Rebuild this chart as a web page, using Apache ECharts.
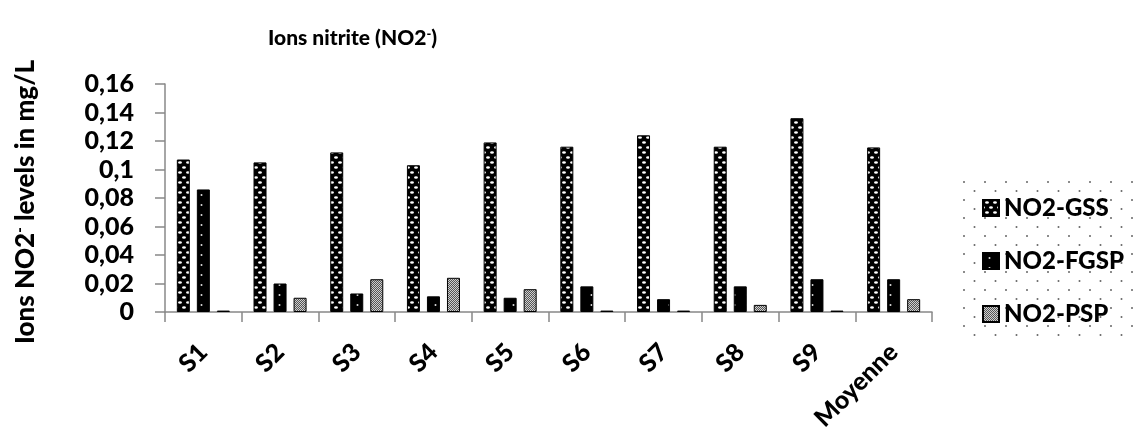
<!DOCTYPE html>
<html>
<head>
<meta charset="utf-8">
<script src="https://cdn.jsdelivr.net/npm/echarts@6/dist/echarts.min.js"></script>
<style>
html,body{margin:0;padding:0;background:#fff;}
#c{width:1138px;height:439px;}
</style>
</head>
<body>
<div id="c"></div>
<script>
const categories = ['S1','S2','S3','S4','S5','S6','S7','S8','S9','Moyenne'];
const gss  = [0.107, 0.105, 0.112, 0.103, 0.119, 0.116, 0.124, 0.116, 0.136, 0.1155];
const fgsp = [0.086, 0.020, 0.013, 0.011, 0.010, 0.018, 0.009, 0.018, 0.023, 0.023];
const psp  = [0.001, 0.010, 0.023, 0.024, 0.016, 0.001, 0.001, 0.005, 0.001, 0.009];
const seriesNames = ['NO2-GSS','NO2-FGSP','NO2-PSP'];
const yTicks = {min:0, max:0.16, interval:0.02};

function pat(w,h,draw){
  const c=document.createElement('canvas'); c.width=w; c.height=h;
  const g=c.getContext('2d'); draw(g,w,h); return {image:c, repeat:'repeat'};
}
const gssPat = pat(8,10,(g,w,h)=>{
  g.fillStyle='#000'; g.fillRect(0,0,w,h);
  g.fillStyle='#fff';
  g.beginPath(); g.ellipse(4,2.5,1.9,1.2,0,0,Math.PI*2); g.fill();
  g.beginPath(); g.ellipse(0,7.5,1.9,1.2,0,0,Math.PI*2); g.fill();
  g.beginPath(); g.ellipse(8,7.5,1.9,1.2,0,0,Math.PI*2); g.fill();
});
const fgspPat = pat(13,10,(g,w,h)=>{
  g.fillStyle='#000'; g.fillRect(0,0,w,h);
  g.fillStyle='#ddd';
  g.beginPath(); g.arc(6.5,5,1,0,Math.PI*2); g.fill();
});
const pspPat = pat(2,2,(g,w,h)=>{
  g.fillStyle='#555'; g.fillRect(0,0,2,2);
  g.fillStyle='#cfcfcf'; g.fillRect(0,0,1,1); g.fillRect(1,1,1,1);
});
const dotPat = pat(21,18,(g,w,h)=>{
  g.fillStyle='#fff'; g.fillRect(0,0,w,h);
  g.fillStyle='#666';
  g.beginPath(); g.arc(2,2,1,0,Math.PI*2); g.fill();
  g.beginPath(); g.arc(12.5,11,1,0,Math.PI*2); g.fill();
});

const font = 'Lato, "Open Sans", sans-serif';
const chart = echarts.init(document.getElementById('c'));
const mk = (name, data, color) => ({
  name, type:'bar', data, barWidth:13, barGap:'54%',
  itemStyle:{color, borderColor:'#000', borderWidth:1}
});
chart.setOption({
  animation:false,
  backgroundColor:'#fff',
  title:{
    text:'{a|Ions nitrite (NO2}{s|-}{a|)}',
    left:263, top:22,
    textStyle:{rich:{
      a:{fontFamily:font, fontWeight:900, fontSize:21, color:'#000'},
      s:{fontFamily:font, fontWeight:900, fontSize:13, color:'#000', verticalAlign:'top', padding:[0,0,10,0]}
    }}
  },
  graphic:[
    {type:'rect', x:962, y:180, shape:{width:176, height:157}, style:{fill:dotPat}, z:-1},
    {type:'text', x:26, y:202, rotation:Math.PI/2,
      style:{text:'{a|Ions NO2}{s|-}{a| levels in mg/L}', align:'center', verticalAlign:'middle',
        rich:{
          a:{font:'900 26px '+font, fill:'#000'},
          s:{font:'900 15px '+font, fill:'#000', verticalAlign:'top', padding:[0,0,11,0]}
        }}}
  ],
  legend:{
    orient:'vertical', left:977, top:191, itemWidth:16, itemHeight:16, itemGap:29, icon:'rect',
    textStyle:{fontFamily:font, fontWeight:900, fontSize:24, color:'#000'},
    data:seriesNames
  },
  grid:{left:165, right:206, top:84, bottom:127},
  xAxis:{
    type:'category', data:categories,
    axisLine:{lineStyle:{color:'#888', width:1.5}},
    axisTick:{show:true, length:10, lineStyle:{color:'#888', width:1.5}},
    axisLabel:{rotate:45, margin:36, fontFamily:font, fontWeight:900, fontSize:25, color:'#000', interval:0}
  },
  yAxis:{
    type:'value', min:yTicks.min, max:yTicks.max, interval:yTicks.interval,
    splitLine:{show:false},
    axisLine:{show:true, lineStyle:{color:'#888', width:1.5}},
    axisTick:{show:true, length:10, lineStyle:{color:'#888', width:1.5}},
    axisLabel:{margin:31, fontFamily:font, fontWeight:900, fontSize:25, color:'#000',
      formatter:v=>String(+v.toFixed(2)).replace('.',',')}
  },
  series:[
    mk(seriesNames[0], gss, gssPat),
    mk(seriesNames[1], fgsp, fgspPat),
    mk(seriesNames[2], psp, pspPat)
  ]
});
</script>
</body>
</html>
